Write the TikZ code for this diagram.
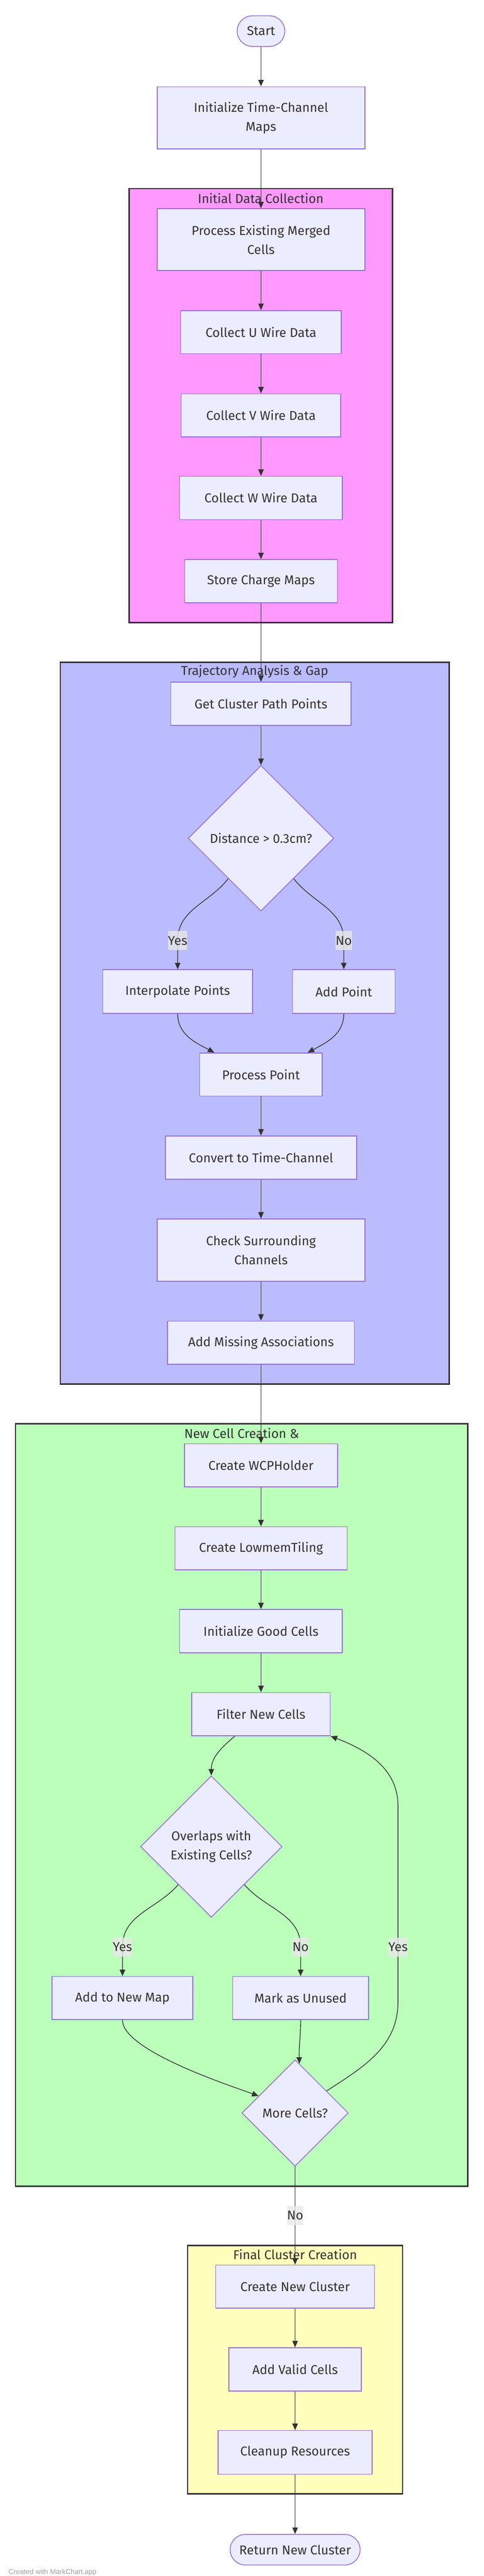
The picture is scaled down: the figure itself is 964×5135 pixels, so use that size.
\documentclass[tikz,border=0pt]{standalone}
\usepackage{fontspec}
\setmainfont{Fira Sans}
\newfontfamily\footfont{Liberation Sans}
\usetikzlibrary{shapes.geometric, arrows.meta}

\definecolor{nodefill}{HTML}{ECECFF}
\definecolor{nodeline}{HTML}{9370DB}
\definecolor{ink}{HTML}{333333}
\definecolor{pinkbg}{HTML}{FF99FF}
\definecolor{bluebg}{HTML}{BBBBFF}
\definecolor{greenbg}{HTML}{BBFFBB}
\definecolor{yellowbg}{HTML}{FFFFBB}
\definecolor{lblbg}{HTML}{E8E8E8}
\definecolor{footgray}{HTML}{9E9E9E}

\begin{document}
\begin{tikzpicture}[x=1pt, y=1pt, font=\fontsize{25.6}{38}\selectfont, text=ink,
        box/.style={rectangle, draw=nodeline, fill=nodefill, line width=1.6pt, minimum height=86pt, inner sep=0pt, align=center},
        term/.style={box, rounded corners=30.5pt, minimum height=61pt},
        decision/.style={diamond, aspect=1, draw=nodeline, fill=nodefill, line width=1.6pt, inner sep=0pt, align=center},
        grp/.style={draw=ink, line width=2.6pt},
        flow/.style={draw=ink, line width=1.4pt, -{Triangle[length=13pt, width=11pt]}},
        lbl/.style={fill=lblbg, fill opacity=0.8, text opacity=1, inner sep=0pt, minimum height=38pt}]
        \useasboundingbox (0, 0) rectangle (964, -5135);

        \draw[grp, fill=pinkbg] (257, -376) rectangle (782, -1241);
        \draw[grp, fill=bluebg] (120, -1320) rectangle (895, -2759);
        \draw[grp, fill=greenbg] (31, -2838) rectangle (932, -4358);
        \draw[grp, fill=yellowbg] (374, -4476) rectangle (802, -4971);
        \node (g1) at (519.5, -395) {Initial Data Collection};
        \node (g2) at (507.5, -1339) {Trajectory Analysis \& Gap};
        \node (g3) at (481.5, -2857) {New Cell Creation \&};
        \node (g4) at (588, -4494) {Final Cluster Creation};

        \node[term, minimum width=95pt] (start) at (520, -62) {Start};
        \node[box, minimum width=414pt, minimum height=124pt] (init) at (520, -235) {Initialize Time-Channel\\Maps};
        \node[box, minimum width=414pt, minimum height=123pt] (merged) at (520, -477.5) {Process Existing Merged\\Cells};
        \node[box, minimum width=320pt] (uwire) at (520, -662) {Collect U Wire Data};
        \node[box, minimum width=318pt] (vwire) at (520, -828) {Collect V Wire Data};
        \node[box, minimum width=324pt] (wwire) at (520, -992.5) {Collect W Wire Data};
        \node[box, minimum width=304pt] (store) at (520, -1158.5) {Store Charge Maps};

        \node[box, minimum width=359pt] (path) at (520, -1403) {Get Cluster Path Points};
        \node[decision, minimum width=290pt, minimum height=290pt] (dist) at (520, -1671) {Distance > 0.3cm?};
        \node[box, minimum width=298pt, minimum height=87pt] (interp) at (354, -1976.5) {Interpolate Points};
        \node[box, minimum width=204pt, minimum height=87pt] (addpt) at (685, -1976.5) {Add Point};
        \node[box, minimum width=244pt] (proc) at (520, -2142) {Process Point};
        \node[box, minimum width=381pt] (conv) at (520, -2307.5) {Convert to Time-Channel};
        \node[box, minimum width=414pt, minimum height=124pt] (check) at (520, -2492) {Check Surrounding\\Channels};
        \node[box, minimum width=372pt] (assoc) at (520, -2676.5) {Add Missing Associations};

        \node[box, minimum width=305pt] (holder) at (520, -2921) {Create WCPHolder};
        \node[box, minimum width=343pt] (tiling) at (520, -3086.5) {Create LowmemTiling};
        \node[box, minimum width=324pt] (good) at (520, -3251.5) {Initialize Good Cells};
        \node[box, minimum width=276pt] (filter) at (520, -3417) {Filter New Cells};
        \node[decision, minimum width=282pt, minimum height=282pt] (overlap) at (421, -3681) {Overlaps with\\Existing Cells?};
        \node[box, minimum width=280pt] (newmap) at (244, -3983) {Add to New Map};
        \node[box, minimum width=271pt] (unused) at (599, -3983) {Mark as Unused};
        \node[decision, minimum width=212pt, minimum height=212pt] (more) at (588, -4212) {More Cells?};

        \node[box, minimum width=316pt] (newcl) at (588, -4558) {Create New Cluster};
        \node[box, minimum width=264pt] (valid) at (588, -4723) {Add Valid Cells};
        \node[box, minimum width=307pt, minimum height=87pt] (cleanup) at (588, -4888.5) {Cleanup Resources};
        \node[term, minimum width=259pt] (ret) at (588, -5082.5) {Return New Cluster};

        \coordinate (yes1) at (354, -1875);
        \coordinate (no1) at (685, -1875);
        \coordinate (yes2) at (244, -3881);
        \coordinate (no2) at (599, -3881);
        \coordinate (loopa) at (793, -3990);
        \coordinate (loopb) at (793, -3600);

        \draw[flow] (start) -- (init);
        \draw[flow] (init) -- (merged);
        \draw[flow] (merged) -- (uwire);
        \draw[flow] (uwire) -- (vwire);
        \draw[flow] (vwire) -- (wwire);
        \draw[flow] (wwire) -- (store);
        \draw[flow] (store) -- (path);
        \draw[flow] (path) -- (dist);
        \draw[flow] (dist.231) to[out=-128, in=90] (yes1) -- (interp.north);
        \draw[flow] (dist.-51) to[out=-52, in=90] (no1) -- (addpt.north);
        \draw[flow] (interp.south) to[out=-90, in=152] ([xshift=-93pt]proc.north);
        \draw[flow] (addpt.south) to[out=-90, in=28] ([xshift=93pt]proc.north);
        \draw[flow] (proc) -- (conv);
        \draw[flow] (conv) -- (check);
        \draw[flow] (check) -- (assoc);
        \draw[flow] (assoc) -- (holder);
        \draw[flow] (holder) -- (tiling);
        \draw[flow] (tiling) -- (good);
        \draw[flow] (good) -- (filter);
        \draw[flow] ([xshift=-52pt]filter.south) to[out=-140, in=90] (overlap.north);
        \draw[flow] (overlap.229) to[out=-131, in=90] (yes2) -- (newmap.north);
        \draw[flow] (overlap.-49) to[out=-49, in=90] (no2) -- (unused.north);
        \draw[flow] (newmap.south) to[out=-90, in=160, looseness=0.5] (more.155);
        \draw[flow] (unused.south) to[out=-90, in=92] (more.85);
        \draw[flow] (more.35) to[out=33, in=-90] (loopa) -- (loopb) to[out=90, in=-21] (filter.south east);
        \draw[flow] (more) -- node[lbl] (no3) {No} (newcl);
        \draw[flow] (newcl) -- (valid);
        \draw[flow] (valid) -- (cleanup);
        \draw[flow] (cleanup) -- (ret);

        \node[lbl] (yeslbl1) at (yes1) {Yes};
        \node[lbl] (nolbl1) at (no1) {No};
        \node[lbl] (yeslbl2) at (yes2) {Yes};
        \node[lbl] (nolbl2) at (no2) {No};
        \node[lbl] (yeslbl3) at (793, -3881) {Yes};

        \node[anchor=base west, inner sep=0pt, text=footgray, font=\footfont\fontsize{14}{17}\selectfont] (credit) at (17, -5131) {Created with MarkChart.app};
    \end{tikzpicture}
\end{document}
